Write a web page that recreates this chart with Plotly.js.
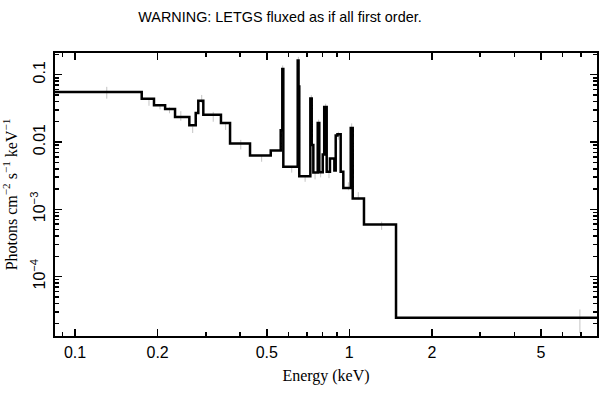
<!DOCTYPE html>
<html>
<head>
<meta charset="utf-8">
<script src="https://cdn.plot.ly/plotly-3.0.1.min.js"></script>
<style>html,body{margin:0;padding:0;background:#fff;}#chart{width:609px;height:399px;}</style>
</head>
<body>
<div id="chart"></div>
<script>
// Model step function: bin edges (keV) and flux per bin
var binEdges = [0.08, 0.175, 0.194, 0.213, 0.2315, 0.261, 0.2754, 0.2814, 0.2935, 0.3404,
  0.3674, 0.4345, 0.517, 0.5622, 0.5697, 0.5746, 0.6483, 0.653, 0.657, 0.7209,
  0.7293, 0.7393, 0.767, 0.7772, 0.800, 0.810, 0.827, 0.850, 0.882, 0.892,
  0.905, 0.930, 0.9508, 1.012, 1.029, 1.131, 1.48, 10];
var binFlux = [0.0553, 0.044, 0.035, 0.031, 0.0236, 0.0177, 0.027, 0.0411, 0.0255, 0.0192,
  0.00946, 0.00628, 0.00745, 0.0150, 0.1215, 0.00428, 0.163, 0.067, 0.0031, 0.0443,
  0.009, 0.00351, 0.0192, 0.00356, 0.0065, 0.0332, 0.00362, 0.00568, 0.00377, 0.0125,
  0.013, 0.0036, 0.00208, 0.0162, 0.00145, 0.000595, 2.45e-5];

// Data points (gray error bars)
var dataE = [0.1305, 0.186, 0.204, 0.221, 0.243, 0.2685, 0.2896, 0.319, 0.354, 0.402,
  0.479, 0.5715, 0.6166, 0.652, 0.690, 0.727, 0.750, 0.773, 0.786, 0.820,
  0.843, 0.912, 0.992, 1.02, 1.078, 1.312, 6.93];
var dataF = [0.055, 0.0385, 0.0335, 0.0297, 0.0247, 0.0153, 0.044, 0.024, 0.0171, 0.00925,
  0.00568, 0.123, 0.0039, 0.164, 0.00286, 0.0445, 0.00318, 0.019, 0.00338, 0.033,
  0.0033, 0.0125, 0.00222, 0.0164, 0.0016, 0.000575, 2.35e-5];
var dataErr = [0.011, 0.004, 0.003, 0.003, 0.004, 0.0017, 0.006, 0.004, 0.002, 0.0015,
  0.0006, 0.014, 0.0004, 0.02, 0.0003, 0.005, 0.0004, 0.0025, 0.0004, 0.004,
  0.0004, 0.0017, 0.0003, 0.0025, 0.0002, 0.00008, 0.9e-5];

// Axis ticks
var xTickVals = [0.1, 0.2, 0.5, 1, 2, 5];
var xTickText = ['0.1', '0.2', '0.5', '1', '2', '5'];
var xMinorVals = [0.09, 0.3, 0.4, 0.6, 0.7, 0.8, 0.9, 3, 4, 6, 7];
var yTickVals = [1e-4, 1e-3, 0.01, 0.1];
var yTickText = ['10<sup>−4</sup>', '10<sup>−3</sup>', '0.01', '0.1'];
var yMinorVals = [2e-5,3e-5,4e-5,5e-5,6e-5,7e-5,8e-5,9e-5,
  2e-4,3e-4,4e-4,5e-4,6e-4,7e-4,8e-4,9e-4,
  2e-3,3e-3,4e-3,5e-3,6e-3,7e-3,8e-3,9e-3,
  0.02,0.03,0.04,0.05,0.06,0.07,0.08,0.09,0.2];

var xRange = [Math.log10(0.0845), Math.log10(8.0)];
var yRange = [Math.log10(1.31e-5), Math.log10(0.21)];

var stepX = binEdges.slice();
var stepY = binFlux.concat([binFlux[binFlux.length - 1]]);

var traces = [
  {
    x: dataE, y: dataF, type: 'scatter', mode: 'markers',
    marker: {size: 0.1, color: 'rgba(0,0,0,0)'},
    error_y: {type: 'data', array: dataErr, visible: true, color: '#c4c4c4', thickness: 1, width: 0},
    hoverinfo: 'skip', showlegend: false
  },
  {
    x: stepX, y: stepY, type: 'scatter', mode: 'lines',
    line: {shape: 'hv', color: '#000', width: 2.5},
    showlegend: false
  },
  { x: [], y: [], xaxis: 'x2', yaxis: 'y2', type: 'scatter', mode: 'lines', showlegend: false, hoverinfo: 'skip' }
];

var sans = 'Liberation Sans, Arial, Helvetica, sans-serif';
var serif = 'Liberation Serif, Times New Roman, serif';

var layout = {
  width: 609, height: 399,
  margin: {l: 55, r: 12, t: 53, b: 63},
  paper_bgcolor: '#fff', plot_bgcolor: '#fff',
  showlegend: false,
  title: {
    text: 'WARNING: LETGS fluxed as if all first order.',
    font: {family: sans, size: 14.4, color: '#000'},
    x: 280 / 609, xref: 'container', xanchor: 'center',
    y: 1 - 17 / 399, yref: 'container', yanchor: 'middle'
  },
  xaxis: {
    type: 'log', range: xRange, autorange: false,
    tickvals: xTickVals, ticktext: xTickText,
    ticks: 'inside', ticklen: 7, tickwidth: 1.5, tickcolor: '#000',
    showline: true, linewidth: 2, linecolor: '#000', mirror: 'ticks',
    showgrid: false, zeroline: false,
    tickfont: {family: sans, size: 16, color: '#000'},
    ticklabelstandoff: 1,
    title: {text: 'Energy (keV)', font: {family: serif, size: 16, color: '#000'}, standoff: 10}
  },
  yaxis: {
    type: 'log', range: yRange, autorange: false,
    tickvals: yTickVals, ticktext: yTickText,
    ticks: 'inside', ticklen: 7, tickwidth: 1.5, tickcolor: '#000',
    showline: true, linewidth: 2, linecolor: '#000', mirror: 'ticks',
    showgrid: false, zeroline: false,
    tickangle: -90,
    tickfont: {family: sans, size: 16, color: '#000'},
    ticklabelstandoff: 2,
    title: {text: 'Photons cm<sup>−2</sup> s<sup>−1</sup> keV<sup>−1</sup>', font: {family: serif, size: 16, color: '#000'}, standoff: 7}
  },
  xaxis2: {
    type: 'log', range: xRange, autorange: false, overlaying: 'x', anchor: 'y2', side: 'bottom',
    tickvals: xMinorVals, showticklabels: false,
    ticks: 'inside', ticklen: 4, tickwidth: 1.5, tickcolor: '#000',
    showline: false, mirror: 'ticks', showgrid: false, zeroline: false
  },
  yaxis2: {
    type: 'log', range: yRange, autorange: false, overlaying: 'y', anchor: 'x2', side: 'left',
    tickvals: yMinorVals, showticklabels: false,
    ticks: 'inside', ticklen: 4, tickwidth: 1.5, tickcolor: '#000',
    showline: false, mirror: 'ticks', showgrid: false, zeroline: false
  }
};

Plotly.newPlot('chart', traces, layout, {displayModeBar: false, staticPlot: true});
</script>
</body>
</html>
